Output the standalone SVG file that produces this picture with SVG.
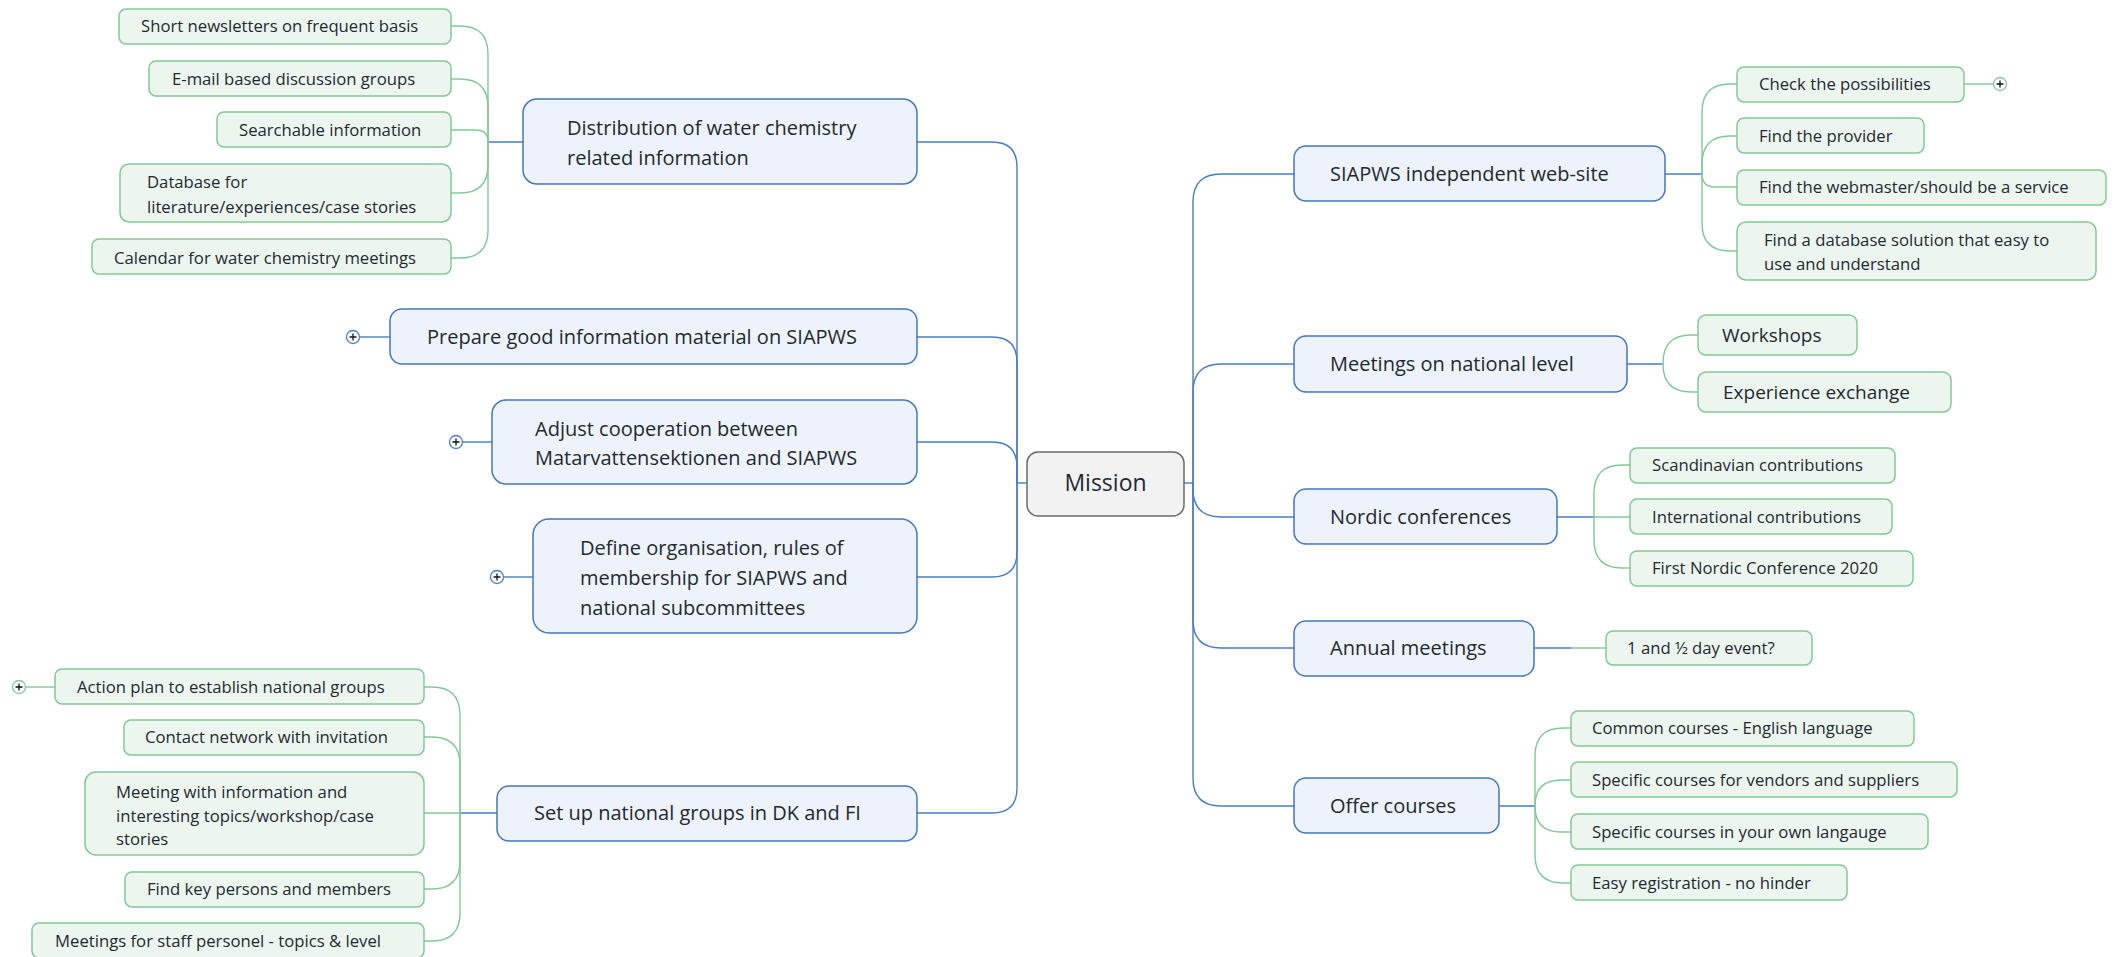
<svg xmlns="http://www.w3.org/2000/svg" width="2119" height="957" viewBox="0 0 2119 957">
<style>
  text { font-family: "Open Sans", "Noto Sans", "Liberation Sans", sans-serif; fill: #1e2a32; }
  .main rect { fill: #eef3fb; stroke: #4677b8; stroke-width: 1.5; }
  .leaf rect { fill: #edf5ef; stroke: #84c797; stroke-width: 1.5; }
  .root rect { fill: #f2f2f2; stroke: #6a6a6a; stroke-width: 1.5; }
  .main text { font-size: 20px; }
  .leaf text { font-size: 16.7px; }
  .leaf text.big { font-size: 19px; }
  .root text { font-size: 23px; }
  .cb { fill: none; stroke: #4a7dbf; stroke-width: 1.4; }
  .cg { fill: none; stroke: #84c797; stroke-width: 1.4; }
  .plus circle { fill: #ffffff; stroke-width: 1.3; }
  .plus path { stroke: #111111; stroke-width: 1.3; fill: none; }
</style>

<g id="connectors">
  <!-- root hubs -->
  <path class="cb" d="M1017,483 H1027"/>
  <path class="cb" d="M1184,483 H1193"/>
  <!-- left main branches -->
  <path class="cb" d="M1017,483 V167 Q1017,142 992,142 H917"/>
  <path class="cb" d="M1017,483 V362 Q1017,337 992,337 H917"/>
  <path class="cb" d="M1017,483 V467 Q1017,442 992,442 H917"/>
  <path class="cb" d="M1017,483 V552 Q1017,577 992,577 H917"/>
  <path class="cb" d="M1017,483 V788 Q1017,813 992,813 H917"/>
  <!-- right main branches -->
  <path class="cb" d="M1193,483 V202 Q1193,174 1221,174 H1294"/>
  <path class="cb" d="M1193,483 V392 Q1193,364 1221,364 H1294"/>
  <path class="cb" d="M1193,483 V489 Q1193,517 1221,517 H1294"/>
  <path class="cb" d="M1193,483 V620 Q1193,648 1221,648 H1294"/>
  <path class="cb" d="M1193,483 V778 Q1193,806 1221,806 H1294"/>
  <!-- Distribution leaves -->
  <path class="cb" d="M523,142 H488"/>
  <path class="cg" d="M488,142 V54 Q488,26 460,26 H451"/>
  <path class="cg" d="M488,142 V107 Q488,79 460,79 H451"/>
  <path class="cg" d="M488,142 Q488,130 476,130 H451"/>
  <path class="cg" d="M488,142 V165 Q488,193 460,193 H451"/>
  <path class="cg" d="M488,142 V230 Q488,258 460,258 H451"/>
  <!-- Set up leaves -->
  <path class="cb" d="M497,813 H460"/>
  <path class="cg" d="M460,813 V715 Q460,687 432,687 H424"/>
  <path class="cg" d="M460,813 V765 Q460,737 432,737 H424"/>
  <path class="cg" d="M460,813 H424"/>
  <path class="cg" d="M460,813 V861 Q460,889 432,889 H424"/>
  <path class="cg" d="M460,813 V913 Q460,941 432,941 H424"/>
  <!-- SIAPWS leaves -->
  <path class="cb" d="M1665,174 H1702"/>
  <path class="cg" d="M1702,174 V112 Q1702,84 1730,84 H1737"/>
  <path class="cg" d="M1702,174 V164 Q1702,136 1730,136 H1737"/>
  <path class="cg" d="M1702,174 Q1702,187 1715,187 H1737"/>
  <path class="cg" d="M1702,174 V223 Q1702,251 1730,251 H1737"/>
  <!-- Meetings leaves -->
  <path class="cb" d="M1627,364 H1663"/>
  <path class="cg" d="M1663,364 V363 Q1663,335 1691,335 H1698"/>
  <path class="cg" d="M1663,364 Q1663,392 1691,392 H1698"/>
  <!-- Nordic leaves -->
  <path class="cb" d="M1557,517 H1594"/>
  <path class="cg" d="M1594,517 V493 Q1594,465 1622,465 H1630"/>
  <path class="cg" d="M1594,517 H1630"/>
  <path class="cg" d="M1594,517 V540 Q1594,568 1622,568 H1630"/>
  <!-- Annual leaf -->
  <path class="cb" d="M1534,648 H1571"/>
  <path class="cg" d="M1571,648 H1606"/>
  <!-- Offer leaves -->
  <path class="cb" d="M1499,806 H1535"/>
  <path class="cg" d="M1535,806 V756 Q1535,728 1563,728 H1571"/>
  <path class="cg" d="M1535,806 Q1535,780 1561,780 H1571"/>
  <path class="cg" d="M1535,806 Q1535,832 1561,832 H1571"/>
  <path class="cg" d="M1535,806 V855 Q1535,883 1563,883 H1571"/>
  <!-- collapse stubs -->
  <path class="cb" d="M360,337 H390"/>
  <path class="cb" d="M463,442 H492"/>
  <path class="cb" d="M504,577 H533"/>
  <path class="cg" d="M26,687 H55"/>
  <path class="cg" d="M1964,84 H1993"/>
</g>

<g id="plus-icons" class="plus">
  <g transform="translate(353,337)"><circle r="6.5" stroke="#4a7dbf"/><path d="M-3.5,0 H3.5 M0,-3.5 V3.5"/></g>
  <g transform="translate(456,442)"><circle r="6.5" stroke="#4a7dbf"/><path d="M-3.5,0 H3.5 M0,-3.5 V3.5"/></g>
  <g transform="translate(497,577)"><circle r="6.5" stroke="#4a7dbf"/><path d="M-3.5,0 H3.5 M0,-3.5 V3.5"/></g>
  <g transform="translate(19,687)"><circle r="6.5" stroke="#84c797"/><path d="M-3.5,0 H3.5 M0,-3.5 V3.5"/></g>
  <g transform="translate(2000,84)"><circle r="6.5" stroke="#84c797"/><path d="M-3.5,0 H3.5 M0,-3.5 V3.5"/></g>
</g>

<g id="mission" class="root">
  <rect x="1027" y="452" width="157" height="64" rx="11"/>
  <text x="1105.5" y="491" text-anchor="middle">Mission</text>
</g>

<!-- left main nodes -->
<g id="distribution" class="main">
  <rect x="523" y="99" width="394" height="85" rx="14"/>
  <text x="567" y="135">Distribution of water chemistry</text>
  <text x="567" y="165">related information</text>
</g>
<g id="prepare" class="main">
  <rect x="390" y="309" width="527" height="55" rx="12"/>
  <text x="427" y="344">Prepare good information material on SIAPWS</text>
</g>
<g id="adjust" class="main">
  <rect x="492" y="400" width="425" height="84" rx="14"/>
  <text x="535" y="436">Adjust cooperation between</text>
  <text x="535" y="465">Matarvattensektionen and SIAPWS</text>
</g>
<g id="define" class="main">
  <rect x="533" y="519" width="384" height="114" rx="16"/>
  <text x="580" y="555">Define organisation, rules of</text>
  <text x="580" y="585">membership for SIAPWS and</text>
  <text x="580" y="615">national subcommittees</text>
</g>
<g id="setup" class="main">
  <rect x="497" y="786" width="420" height="55" rx="12"/>
  <text x="534" y="820">Set up national groups in DK and FI</text>
</g>

<!-- right main nodes -->
<g id="website" class="main">
  <rect x="1294" y="146" width="371" height="55" rx="12"/>
  <text x="1330" y="181">SIAPWS independent web-site</text>
</g>
<g id="meetings" class="main">
  <rect x="1294" y="336" width="333" height="56" rx="12"/>
  <text x="1330" y="371">Meetings on national level</text>
</g>
<g id="nordic" class="main">
  <rect x="1294" y="489" width="263" height="55" rx="12"/>
  <text x="1330" y="524">Nordic conferences</text>
</g>
<g id="annual" class="main">
  <rect x="1294" y="621" width="240" height="55" rx="12"/>
  <text x="1330" y="655">Annual meetings</text>
</g>
<g id="offer" class="main">
  <rect x="1294" y="778" width="205" height="55" rx="12"/>
  <text x="1330" y="813">Offer courses</text>
</g>

<!-- Distribution leaves -->
<g id="leaf-newsletters" class="leaf">
  <rect x="119" y="9" width="332" height="35" rx="7"/>
  <text x="141" y="32">Short newsletters on frequent basis</text>
</g>
<g id="leaf-email" class="leaf">
  <rect x="149" y="61" width="302" height="35" rx="7"/>
  <text x="172" y="85">E-mail based discussion groups</text>
</g>
<g id="leaf-searchable" class="leaf">
  <rect x="217" y="112" width="234" height="35" rx="7"/>
  <text x="239" y="136">Searchable information</text>
</g>
<g id="leaf-database" class="leaf">
  <rect x="120" y="164" width="331" height="58" rx="9"/>
  <text x="147" y="188">Database for</text>
  <text x="147" y="213">literature/experiences/case stories</text>
</g>
<g id="leaf-calendar" class="leaf">
  <rect x="92" y="239" width="359" height="35" rx="7"/>
  <text x="114" y="264">Calendar for water chemistry meetings</text>
</g>

<!-- Set up leaves -->
<g id="leaf-action" class="leaf">
  <rect x="55" y="669" width="369" height="35" rx="7"/>
  <text x="77" y="693">Action plan to establish national groups</text>
</g>
<g id="leaf-contact" class="leaf">
  <rect x="124" y="720" width="300" height="35" rx="7"/>
  <text x="145" y="743">Contact network with invitation</text>
</g>
<g id="leaf-meeting-info" class="leaf">
  <rect x="85" y="772" width="339" height="83" rx="11"/>
  <text x="116" y="798">Meeting with information and</text>
  <text x="116" y="822">interesting topics/workshop/case</text>
  <text x="116" y="845">stories</text>
</g>
<g id="leaf-keypersons" class="leaf">
  <rect x="125" y="872" width="299" height="35" rx="7"/>
  <text x="147" y="895">Find key persons and members</text>
</g>
<g id="leaf-staff" class="leaf">
  <rect x="32" y="923" width="392" height="35" rx="7"/>
  <text x="55" y="947">Meetings for staff personel - topics &amp; level</text>
</g>

<!-- SIAPWS leaves -->
<g id="leaf-check" class="leaf">
  <rect x="1737" y="67" width="227" height="35" rx="7"/>
  <text x="1759" y="90">Check the possibilities</text>
</g>
<g id="leaf-provider" class="leaf">
  <rect x="1737" y="118" width="187" height="35" rx="7"/>
  <text x="1759" y="142">Find the provider</text>
</g>
<g id="leaf-webmaster" class="leaf">
  <rect x="1737" y="170" width="369" height="35" rx="7"/>
  <text x="1759" y="193">Find the webmaster/should be a service</text>
</g>
<g id="leaf-dbsolution" class="leaf">
  <rect x="1737" y="222" width="359" height="58" rx="9"/>
  <text x="1764" y="246">Find a database solution that easy to</text>
  <text x="1764" y="270">use and understand</text>
</g>

<!-- Meetings leaves -->
<g id="leaf-workshops" class="leaf">
  <rect x="1698" y="315" width="159" height="40" rx="8"/>
  <text class="big" x="1722" y="342">Workshops</text>
</g>
<g id="leaf-experience" class="leaf">
  <rect x="1698" y="372" width="253" height="40" rx="8"/>
  <text class="big" x="1723" y="399">Experience exchange</text>
</g>

<!-- Nordic leaves -->
<g id="leaf-scandinavian" class="leaf">
  <rect x="1630" y="448" width="265" height="35" rx="7"/>
  <text x="1652" y="471">Scandinavian contributions</text>
</g>
<g id="leaf-international" class="leaf">
  <rect x="1630" y="499" width="262" height="35" rx="7"/>
  <text x="1652" y="523">International contributions</text>
</g>
<g id="leaf-first" class="leaf">
  <rect x="1630" y="551" width="283" height="35" rx="7"/>
  <text x="1652" y="574">First Nordic Conference 2020</text>
</g>

<!-- Annual leaf -->
<g id="leaf-dayevent" class="leaf">
  <rect x="1606" y="631" width="206" height="34" rx="7"/>
  <text x="1627" y="654">1 and ½ day event?</text>
</g>

<!-- Offer leaves -->
<g id="leaf-common" class="leaf">
  <rect x="1571" y="711" width="343" height="35" rx="7"/>
  <text x="1592" y="734">Common courses - English language</text>
</g>
<g id="leaf-vendors" class="leaf">
  <rect x="1571" y="762" width="386" height="35" rx="7"/>
  <text x="1592" y="786">Specific courses for vendors and suppliers</text>
</g>
<g id="leaf-own" class="leaf">
  <rect x="1571" y="814" width="357" height="35" rx="7"/>
  <text x="1592" y="838">Specific courses in your own langauge</text>
</g>
<g id="leaf-easy" class="leaf">
  <rect x="1571" y="865" width="276" height="35" rx="7"/>
  <text x="1592" y="889">Easy registration - no hinder</text>
</g>
</svg>
